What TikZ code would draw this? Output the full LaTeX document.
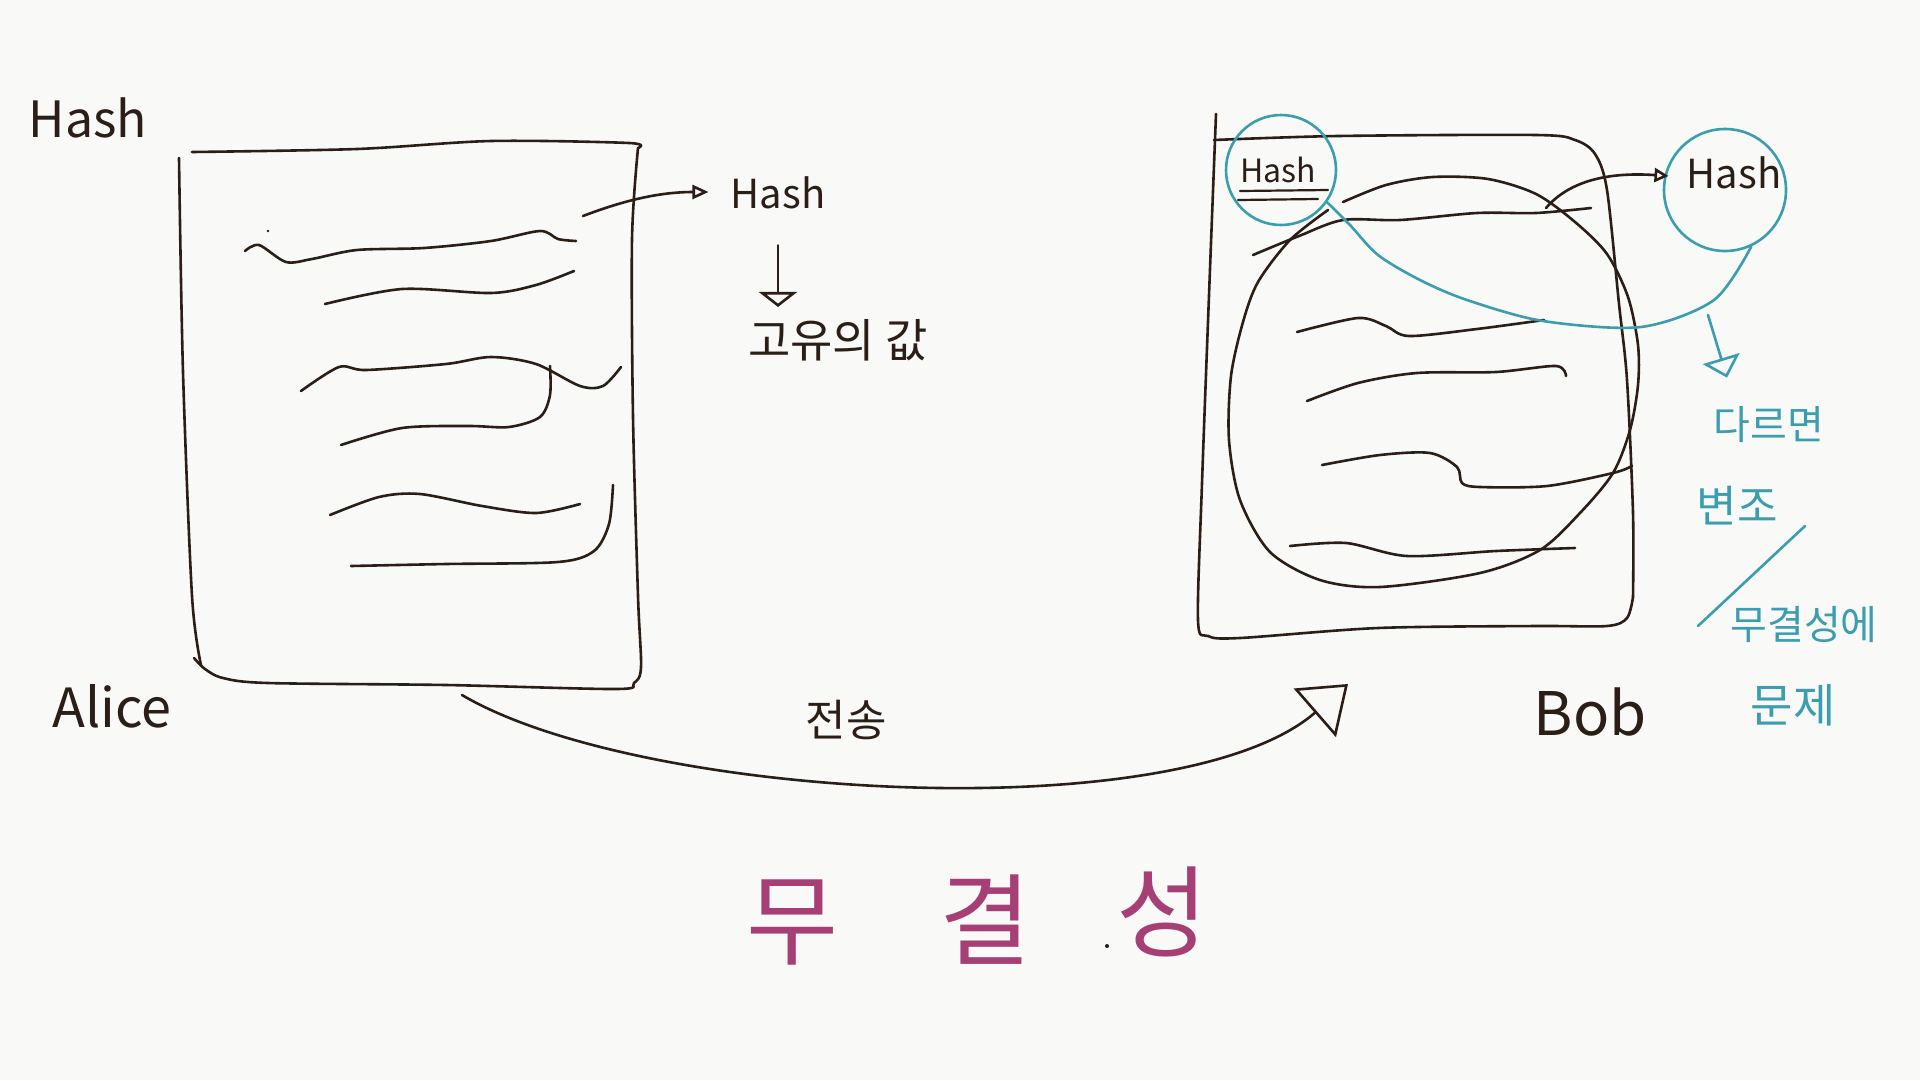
\documentclass[tikz,border=0pt]{standalone}
\usepackage{fontspec}
\setmainfont{Noto Sans CJK KR}
\usetikzlibrary{arrows.meta,calc}
\definecolor{bgc}{HTML}{F9F9F7}
\definecolor{inkc}{HTML}{2B1E16}
\definecolor{tealc}{HTML}{3A9DB0}
\definecolor{magc}{HTML}{A63F75}
\newcommand{\fsz}[1]{\fontsize{#1}{#1}\selectfont}
\begin{document}
\begin{tikzpicture}[x=1pt,y=-1pt,
  ink/.style={draw=inkc,line width=2.6pt,line cap=round,line join=round},
  tealline/.style={draw=tealc,line width=2.6pt,line cap=round,line join=round},
  inktext/.style={text=inkc,inner sep=0pt},
  tealtext/.style={text=tealc,inner sep=0pt},
  magtext/.style={text=magc,inner sep=0pt,font=\fsz{100}},
  tealcirc/.style={circle,draw=tealc,line width=2.6pt,inner sep=0pt,minimum size=#1}]
\fill[bgc] (0,0) rectangle (1920,1080);
\useasboundingbox (0,0) rectangle (1920,1080);

% ---------- Alice document ----------
\draw[ink] plot[smooth] coordinates {(179,158) (183,372) (192,596) (201,665)};
\draw[ink] plot[smooth] coordinates {(192,152) (357,149) (491,141) (629,143) (638,148)};
\draw[ink] plot[smooth,tension=0.5] coordinates {(638,148) (632,239) (633,417) (638,596) (641,667) (634,683) (616,689) (446,685) (268,683) (223,678) (205,669) (194,658)};
% text scribbles
\draw[ink] plot[smooth] coordinates {(245,251) (259,245) (286,262) (312,259) (357,250) (424,248) (491,241) (540,231) (558,239) (576,241)};
\draw[ink] plot[smooth] coordinates {(325,304) (402,289) (491,293) (536,285) (574,271)};
\draw[ink] plot[smooth] coordinates {(301,391) (339,367) (366,370) (446,364) (491,357) (536,364) (580,386) (603,386) (621,367)};
\draw[ink] plot[smooth] coordinates {(341,445) (402,428) (469,426) (509,427) (540,417) (550,395) (550,366)};
\draw[ink] plot[smooth] coordinates {(330,515) (379,497) (420,494) (482,506) (536,513) (580,504)};
\draw[ink] plot[smooth] coordinates {(351,566) (446,564) (558,562) (594,551) (609,524) (613,485)};
\fill[inkc] (268,231) circle (1.3pt);

% ---------- Bob document ----------
\draw[ink] plot[smooth] coordinates {(1216,114) (1210,269) (1202,483) (1198,620) (1208,636) (1240,638) (1378,628) (1536,626) (1607,626) (1627,618) (1633,597)};
\draw[ink] plot[smooth] coordinates {(1214,140) (1338,136) (1536,135) (1575,140) (1595,154) (1607,190) (1619,304) (1627,380) (1633,513) (1633,597)};
% text scribbles
\draw[ink] plot[smooth] coordinates {(1253,255) (1299,236) (1343,220) (1400,220) (1477,213) (1536,213) (1591,208)};
\draw[ink] plot[smooth] coordinates {(1297,332) (1358,318) (1386,326) (1409,336) (1477,329) (1544,320)};
\draw[ink] plot[smooth] coordinates {(1307,401) (1358,383) (1417,373) (1496,372) (1556,366) (1566,376)};
\draw[ink] plot[smooth] coordinates {(1322,465) (1380,455) (1430,453) (1457,467) (1462,483) (1480,487) (1547,486) (1613,473) (1632,466)};
\draw[ink] plot[smooth] coordinates {(1290,546) (1346,543) (1407,556) (1496,551) (1575,548)};
% big oval
\draw[ink] plot[smooth] coordinates {(1343,202) (1386,185) (1433,177) (1488,179) (1536,194) (1575,222) (1607,254) (1628,297) (1638,345) (1638,385) (1630,430) (1613,473) (1580,513) (1540,550) (1480,573) (1380,587) (1320,580) (1270,552) (1240,500) (1229,440) (1231,376) (1243,322) (1258,282) (1290,240) (1328,210)};

% ---------- labels ----------
\node[inktext,font=\fsz{50}] (hashTL) at (88,118) {Hash};
\node[inktext,font=\fsz{54}] (aliceLbl) at (112,706) {Alice};
\node[inktext,font=\fsz{40}] (hashA) at (778,193) {Hash};
\node[inktext,font=\fsz{46}] (uniq) at (838,340) {고유의 값};
\node[inktext,font=\fsz{44}] (sendLbl) at (846,720) {전송};
\node[inktext,font=\fsz{60}] (bobLbl) at (1590,712) {Bob};

\node[inktext,font=\fsz{32}] (hashIn) at (1278,170) {Hash};
\draw[ink,line width=2.2pt] (1240,191) -- (1328,190);
\draw[ink,line width=2.2pt] (1238,200) -- (1318,199);
\node[tealcirc=110pt] (circIn) at (1281,170) {};
\node[tealcirc=122pt] (circOut) at (1725,190) {};
\node[inktext,font=\fsz{40}] (hashOut) at (1734,173) {Hash};

\node[tealtext,font=\fsz{40}] (diff) at (1769,425) {다르면};
\node[tealtext,font=\fsz{44}] (tamper) at (1737,506) {변조};
\node[tealtext,font=\fsz{40}] (integA) at (1804,625) {무결성에};
\node[tealtext,font=\fsz{46}] (integB) at (1793,705) {문제};

\node[magtext] (mu) at (792,922) {무};
\node[magtext] (gyeol) at (985,920) {결};
\node[magtext] (seong) at (1162,912) {성};
\fill[inkc] (1107,946) circle (2pt);

% ---------- connectors ----------
\coordinate (aOut) at (583,216);
\draw[ink,-{Triangle[open,length=16pt,width=14pt]}] (aOut) .. controls (625,200) and (660,192) .. ($(hashA.west)+(-22,-1)$);
\draw[ink,-{Triangle[open,length=15pt,width=38pt]}] ($(hashA.south)+(0,36)$) -- ($(hashA.south |- uniq.north)+(0,-12)$);

\coordinate (aBot) at (462,695);
\coordinate (bIn) at (1348,684);
\draw[ink,-{Triangle[open,length=44pt,width=64pt]}] (aBot) .. controls (640,800) and (1180,830) .. (bIn);

\coordinate (bOut) at (1546,208);
\draw[ink,-{Triangle[open,length=14pt,width=14pt]}] (bOut) .. controls (1570,180) and (1610,172) .. ($(hashOut.west)+(-18,3)$);

\draw[tealline] plot[smooth] coordinates {(circIn.-35) (1350,225) (1378,255) (1420,280) (1467,300) (1543,321) (1641,327) (1714,300) (circOut.-65)};
\coordinate (tFrom) at (1708,315);
\draw[tealline,-{Triangle[open,length=20pt,width=38pt]}] (tFrom) -- ($(diff.north)+(-42,-29)$);
\draw[tealline] (1805,526) -- (1698,626);
\end{tikzpicture}
\end{document}
